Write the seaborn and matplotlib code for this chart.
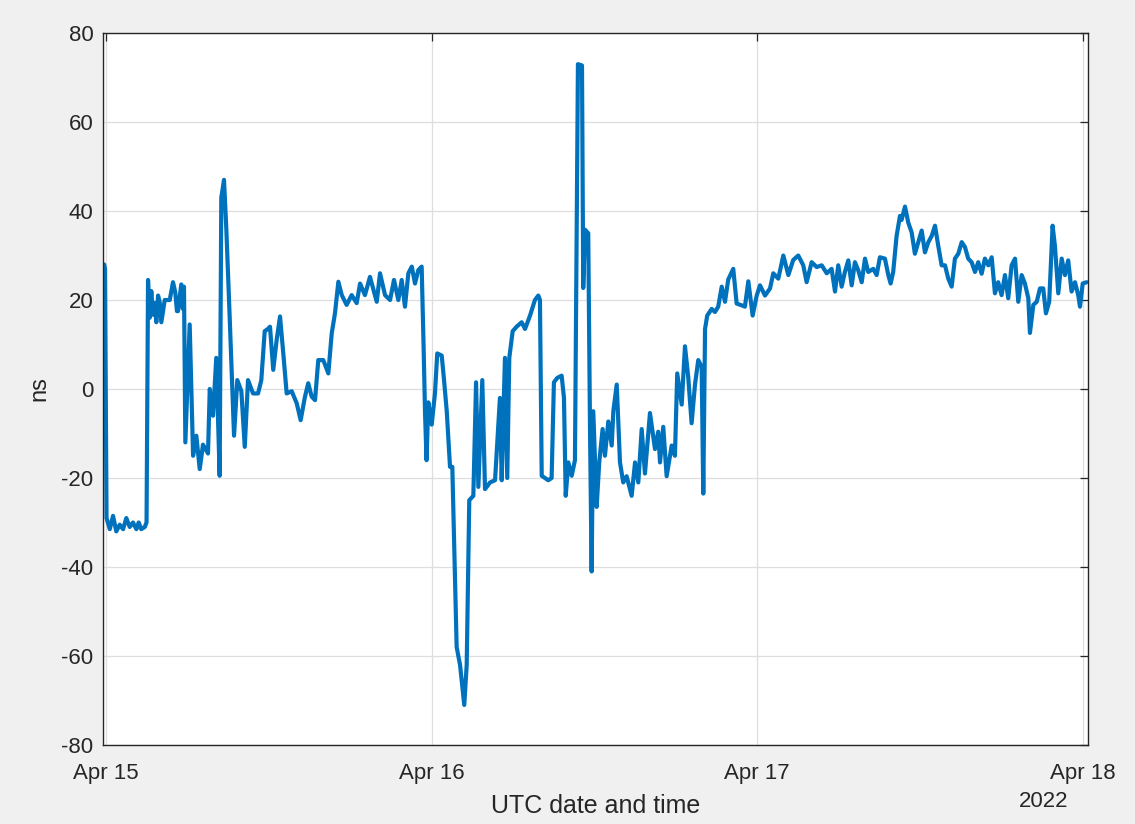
import numpy as np
import pandas as pd
import matplotlib
matplotlib.use("Agg")
import matplotlib.pyplot as plt
import matplotlib.dates as mdates
import seaborn as sns

# hours since 2022-04-15 00:00 UTC
hours = [
    -0.23, -0.15, -0.08, 0.03, 0.27, 0.51, 0.75, 1.00, 1.25, 1.49, 1.74, 1.98, 2.23, 2.40, 2.59, 2.85, 2.98,
    3.09, 3.21, 3.33, 3.46, 3.58, 3.70, 3.83, 3.95, 4.07, 4.32, 4.69, 4.93, 5.10, 5.22, 5.30, 5.54, 5.66, 5.74,
    5.84, 6.16, 6.41, 6.65,
    6.90, 7.14, 7.51, 7.64, 7.88, 8.12, 8.37, 8.49, 8.69, 8.86, 9.11, 9.43, 9.67, 9.97, 10.22, 10.46, 10.83,
    11.20, 11.44, 11.69, 11.93,
    12.08, 12.32, 12.57, 12.82, 13.06, 13.31, 13.68, 14.05, 14.34, 14.66, 14.90, 15.15, 15.40, 15.64, 16.01,
    16.38, 16.63, 16.87, 17.12, 17.37, 17.73, 18.10, 18.47, 18.72, 19.08, 19.45, 19.95, 20.19, 20.56, 20.93,
    21.22, 21.54, 21.79, 22.03, 22.28, 22.53, 22.77, 23.01, 23.26, 23.40, 23.51, 23.62, 23.75, 24.00, 24.24,
    24.41, 24.74, 24.91, 25.11, 25.35, 25.52, 25.84, 26.09, 26.40, 26.58, 26.77, 27.07, 27.27, 27.44, 27.73,
    27.93, 28.30, 28.67, 29.03, 29.16, 29.40, 29.57, 29.72, 29.97, 30.26, 30.63, 30.88, 31.25, 31.61, 31.86,
    31.98, 32.11, 32.59, 32.84, 33.01, 33.26, 33.58, 33.75, 33.88, 34.07, 34.32, 34.56,
    34.78, 35.08, 35.17, 35.30, 35.54, 35.67, 35.79, 35.91, 36.16, 36.35, 36.60, 36.77, 37.02, 37.27, 37.39,
    37.64, 37.88, 38.12, 38.37, 38.74, 38.99, 39.23, 39.48, 39.72, 40.09, 40.46, 40.70, 40.83, 41.07, 41.32,
    41.69, 41.93, 42.10, 42.43, 42.67, 42.91, 43.16, 43.41, 43.65, 43.90, 44.02, 44.15, 44.31, 44.64, 44.88,
    45.12, 45.38, 45.62, 45.86, 46.23, 46.48, 46.85, 47.09, 47.34, 47.66,
    47.96, 48.20, 48.57, 48.94, 49.18, 49.55, 49.92, 50.29, 50.65, 51.02, 51.39, 51.64, 52.01, 52.38, 52.75,
    53.12, 53.48, 53.73, 53.97, 54.22, 54.46, 54.71, 54.96, 55.20, 55.44, 55.70, 55.94, 56.18, 56.55, 56.80,
    57.04, 57.41, 57.66, 57.83, 58.02, 58.27, 58.52, 58.64, 58.89, 59.13, 59.38, 59.62, 59.87, 60.12, 60.36,
    60.61, 60.86, 61.10, 61.34, 61.59, 61.84, 62.08, 62.33, 62.57, 62.82, 63.07, 63.31, 63.55, 63.80, 64.05,
    64.29, 64.54, 64.78, 65.03, 65.28, 65.52, 65.76, 66.01, 66.26, 66.50, 66.75, 67.00, 67.24, 67.49, 67.73,
    67.98, 68.10, 68.35, 68.60, 68.84, 69.08, 69.28, 69.52, 69.77, 69.94, 70.19, 70.44, 70.68, 70.92, 71.17,
    71.42, 71.66, 71.79, 71.99, 72.28,
]

ns_values = [
    26, 28, 27, -29, -31.5, -28.5, -32, -30.5, -31.5, -29, -31, -30, -31.5, -30, -31.5, -31, -30,
    24.5, 16, 22, 16.7, 19.3, 15, 21, 19.5, 15, 20, 20, 24, 21.7, 17.5, 17.5, 23.5, 18, 23,
    -12, 14.5, -15, -10.5,
    -18, -12.5, -14.5, 0, -6, 7, -19.5, 43, 47, 36, 16, -10.5, 2, -0.5, -13, 2, -1,
    -1, 2, 13, 13.5,
    14, 4.3, 11, 16.3, 8, -1, -0.5, -3.2, -7, -1.7, 1.3, -1.7, -2.5, 6.5, 6.5,
    3.5, 12.5, 17, 24.1, 21.1, 18.9, 21.1, 19.3, 23.7, 21.1, 25.2, 19.6, 26, 21.1, 20,
    24.5, 20, 24.5, 18.5, 26, 27.5, 23.7, 26.7, 27.5, 10, -5.5, -16, -3, -8, -1,
    8, 7.5, 2, -5, -17.5, -17.5, -58, -62, -71, -62, -25, -24, 1.5, -22, 2,
    -22.5, -21, -20.5, -2, -20.5, 7, -20, 7, 13, 14, 15, 13.5, 16.5, 20, 21,
    20, -19.5, -20.5, -20, 1.5, 2.5, 3, -2, -24, -16.5, -19.5, -16,
    73, 72.7, 22.7, 35.8, 35, -9, -41, -5, -26.5, -16.5, -9, -15, -7.3, -12.7, -5,
    1, -16.5, -21, -19.6, -24, -16.5, -21, -9, -19, -5.4, -13.5, -9.6, -16.5, -8.5, -19.6,
    -12.7, -15, 3.5, -3.5, 9.6, 2.7, -7.7, 1, 6.5, 5, -23.5, 13.5, 16.5, 18, 17.3,
    18.5, 23, 19.6, 24.6, 27, 19.2, 18.8, 18.5, 24.2, 16.5,
    21, 23.3, 21, 22.6, 26, 24.8, 30, 25.6, 29, 30, 27.8, 24, 28.5, 27.4, 27.8,
    26, 27, 21.9, 27.8, 23, 26.3, 28.9, 23.3, 28.5, 26.7, 24, 29.3, 26.3, 27, 25.6,
    29.6, 29.3, 25.6, 23.7, 26.3, 34.4, 38.9, 38, 41, 37.4, 35.2, 30.4, 33, 35.6, 30.7,
    33, 34.4, 36.7, 32.2, 27.8, 27.8, 24.8, 23, 29.3, 30.4, 33, 31.9, 29.3, 28.5, 26.3,
    28.5, 25.9, 29.3, 27.8, 29.6, 21.5, 24, 21.1, 25.6, 20.4, 27.8, 29.3, 19.6, 25.6, 23.7,
    20.4, 12.6, 18.9, 19.6, 22.6, 22.6, 17, 19.6, 36.7, 32.2, 21.5, 29.3, 25.6, 28.9, 21.9,
    24, 21.1, 18.5, 23.7, 24,
]

day_ticks = ["2022-04-15", "2022-04-16", "2022-04-17", "2022-04-18"]
y_ticks = [-80, -60, -40, -20, 0, 20, 40, 60, 80]

start = pd.Timestamp("2022-04-15 00:00")
df = pd.DataFrame({
    "time": start + pd.to_timedelta(hours, unit="h"),
    "ns": ns_values,
})

sns.set_style("white")
plt.rcParams["font.family"] = ["Liberation Sans", "DejaVu Sans"]
plt.rcParams["axes.unicode_minus"] = False

fig = plt.figure(figsize=(11.35, 8.24), dpi=100, facecolor="#f0f0f0")
ax = fig.add_axes([103 / 1135, 1 - 745 / 824, 985 / 1135, 712 / 824])
ax.set_facecolor("white")

sns.lineplot(data=df, x="time", y="ns", ax=ax, color="#0072BD", linewidth=3.0,
             estimator=None, sort=False)

ax.set_xlim(start + pd.Timedelta(hours=-0.23), start + pd.Timedelta(hours=72.38))
ax.set_ylim(-80, 80)
ax.set_yticks(y_ticks)
ax.set_xticks(pd.to_datetime(day_ticks))
ax.xaxis.set_major_formatter(mdates.DateFormatter("%b %d"))

ax.grid(True, color="#dedede", linewidth=0.9)
ax.set_axisbelow(True)
for s in ax.spines.values():
    s.set_visible(True)
    s.set_color("#262626")
    s.set_linewidth(1.0)

ax.tick_params(axis="both", direction="in", length=6, width=0.9, colors="#262626",
               labelsize=16, top=True, right=True)
ax.tick_params(axis="x", pad=13)
ax.tick_params(axis="y", pad=7)

ax.set_xlabel("UTC date and time", fontsize=18, color="#262626", labelpad=7)
ax.set_ylabel("ns", fontsize=17, color="#262626", labelpad=8)
ax.annotate("2022", xy=(0.955, -0.079), xycoords="axes fraction", ha="center", va="center",
            fontsize=16, color="#262626")

fig.savefig("out.png", dpi=100, facecolor=fig.get_facecolor())
